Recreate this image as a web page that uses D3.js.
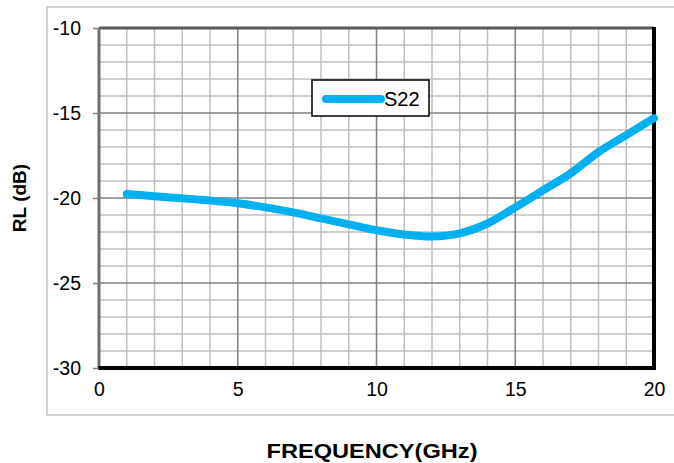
<!DOCTYPE html>
<meta charset="utf-8">
<style>
body { margin: 0; background: #fff; }
svg { font-family: "Liberation Sans", Arial, sans-serif; }
</style>
<body>
<svg width="674" height="463"></svg>
<script src="https://cdn.jsdelivr.net/npm/d3@7"></script>
<script>

// S22 return loss
var freq = [1, 2, 3, 4, 5, 6, 7, 8, 9, 10, 11, 12, 13, 14, 15, 16, 17, 18, 19, 20];
var s22 = [-19.76, -19.9, -20.02, -20.15, -20.31, -20.55, -20.85, -21.2, -21.55, -21.9,
           -22.15, -22.27, -22.08, -21.5, -20.55, -19.55, -18.55, -17.3, -16.3, -15.3];
var xTicks = [0, 5, 10, 15, 20];
var yTicks = [-30, -25, -20, -15, -10];
var seriesName = "S22";

var svg = d3.select("svg"),
    margin = {top: 28, right: 20, bottom: 95, left: 99},
    width = +svg.attr("width") - margin.left - margin.right,
    height = +svg.attr("height") - margin.top - margin.bottom;

var x = d3.scaleLinear().domain([0, 20]).range([0, width]),
    y = d3.scaleLinear().domain([-30, -10]).range([height, 0]);

// outer chart frame
svg.append("rect")
    .attr("x", 47).attr("y", 7)
    .attr("width", 640).attr("height", 408)
    .attr("fill", "none")
    .attr("stroke", "#d0d0d0")
    .attr("stroke-width", 2);

var g = svg.append("g")
    .attr("transform", "translate(" + margin.left + "," + margin.top + ")");

// minor grid
g.append("g")
  .selectAll("line")
  .data(d3.range(1, 20).filter(function(d) { return d % 5; }))
  .enter().append("line")
    .attr("x1", x).attr("x2", x)
    .attr("y1", 0).attr("y2", height)
    .attr("stroke", "#bfbfbf").attr("stroke-width", 1.5);

g.append("g")
  .selectAll("line")
  .data(d3.range(-29, -10).filter(function(d) { return d % 5; }))
  .enter().append("line")
    .attr("y1", y).attr("y2", y)
    .attr("x1", 0).attr("x2", width)
    .attr("stroke", "#bfbfbf").attr("stroke-width", 1.5);

// major grid
g.append("g")
  .selectAll("line")
  .data([5, 10, 15])
  .enter().append("line")
    .attr("x1", x).attr("x2", x)
    .attr("y1", 0).attr("y2", height)
    .attr("stroke", "#808080").attr("stroke-width", 1.5);

g.append("g")
  .selectAll("line")
  .data([-25, -20, -15])
  .enter().append("line")
    .attr("y1", y).attr("y2", y)
    .attr("x1", 0).attr("x2", width)
    .attr("stroke", "#808080").attr("stroke-width", 1.5);

// plot borders
g.append("line").attr("x1", 0).attr("x2", width).attr("y1", 0).attr("y2", 0)
    .attr("stroke", "#595959").attr("stroke-width", 3);
g.append("line").attr("x1", 0).attr("x2", 0).attr("y1", 0).attr("y2", height)
    .attr("stroke", "#6e6e6e").attr("stroke-width", 3);
g.append("line").attr("x1", width).attr("x2", width).attr("y1", -1).attr("y2", height + 2)
    .attr("stroke", "#000").attr("stroke-width", 4);
g.append("line").attr("x1", -1).attr("x2", width + 2).attr("y1", height).attr("y2", height)
    .attr("stroke", "#000").attr("stroke-width", 4);

// axes
var yAxis = g.append("g")
    .call(d3.axisLeft(y).tickValues(yTicks).tickSize(6).tickPadding(12));
yAxis.select(".domain").remove();
yAxis.selectAll("line").attr("stroke", "#808080").attr("stroke-width", 1.5);
yAxis.selectAll("text").attr("font-size", 19.5).attr("fill", "#000")
    .text(function(d) { return d; });

var xAxis = g.append("g")
    .attr("transform", "translate(0," + height + ")")
    .call(d3.axisBottom(x).tickValues(xTicks).tickSize(0).tickPadding(14));
xAxis.select(".domain").remove();
xAxis.selectAll("text").attr("font-size", 19.5).attr("fill", "#000");

// series
var line = d3.line()
    .curve(d3.curveCatmullRom.alpha(0.5))
    .x(function(d, i) { return x(freq[i]); })
    .y(function(d) { return y(d); });

g.append("path")
    .datum(s22)
    .attr("fill", "none")
    .attr("stroke", "#00b0f0")
    .attr("stroke-width", 8)
    .attr("stroke-linecap", "round")
    .attr("d", line);

// legend
var legend = svg.append("g").attr("transform", "translate(312,80)");
legend.append("rect")
    .attr("width", 117).attr("height", 36)
    .attr("fill", "#fff").attr("stroke", "#000").attr("stroke-width", 1.5);
legend.append("line")
    .attr("x1", 14).attr("x2", 69).attr("y1", 19).attr("y2", 19)
    .attr("stroke", "#00b0f0").attr("stroke-width", 8).attr("stroke-linecap", "round");
legend.append("text")
    .attr("x", 72).attr("y", 19).attr("dy", "0.35em")
    .attr("font-size", 20)
    .text(seriesName);

// axis titles
svg.append("text")
    .attr("transform", "translate(26," + (margin.top + height / 2) + ") rotate(-90)")
    .attr("text-anchor", "middle")
    .attr("font-size", 19).attr("font-weight", "bold")
    .text("RL (dB)");

svg.append("text")
    .attr("x", 372).attr("y", 458)
    .attr("text-anchor", "middle")
    .attr("font-size", 21).attr("font-weight", "bold")
    .attr("textLength", 211).attr("lengthAdjust", "spacingAndGlyphs")
    .text("FREQUENCY(GHz)");

</script>
</body>
